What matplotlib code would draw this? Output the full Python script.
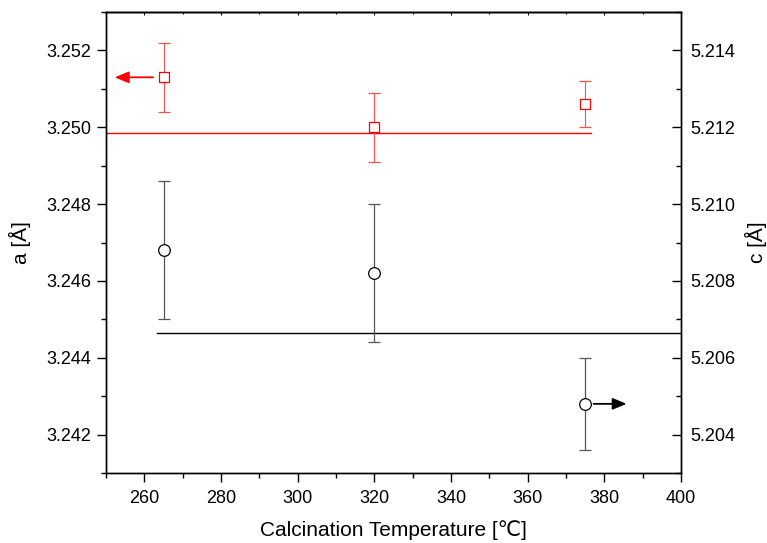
import matplotlib
matplotlib.use("Agg")
import matplotlib.pyplot as plt
from matplotlib.ticker import MultipleLocator, FormatStrFormatter

plt.rcParams['font.family'] = ['Liberation Sans', 'DejaVu Sans']

# Data
temps = [265, 320, 375]
a_vals = [3.2513, 3.2500, 3.2506]
a_err = [0.0009, 0.0009, 0.0006]
c_vals = [5.2088, 5.2082, 5.2048]
c_err = [0.0018, 0.0018, 0.0012]

a_fit_x = [250, 376.4]
a_fit_y = [3.24984, 3.24984]
c_fit_x = [263.4, 400]
c_fit_y = [5.20665, 5.20665]

x_ticks = [260, 280, 300, 320, 340, 360, 380, 400]

fig = plt.figure(figsize=(7.67, 5.43), dpi=100)
ax = fig.add_axes([0.1382, 0.1289, 0.8879 - 0.1382, 0.9779 - 0.1289])
ax2 = ax.twinx()

# a series (left axis, red)
ax.plot(a_fit_x, a_fit_y, color='red', lw=1.0, zorder=2)
ax.errorbar(temps, a_vals, yerr=a_err, fmt='none', ecolor='#ff5050',
            elinewidth=0.8, capsize=4.5, capthick=0.9, zorder=3)
ax.plot(temps, a_vals, linestyle='none', marker='s', markersize=6.8,
        markerfacecolor='white', markeredgecolor='red', markeredgewidth=0.9, zorder=4)
ax.annotate('', xy=(252.3, a_vals[0]), xytext=(262.3, a_vals[0]),
            arrowprops=dict(arrowstyle='-|>,head_length=0.6,head_width=0.25', color='red', lw=1.3,
                            mutation_scale=14, shrinkA=0, shrinkB=0))

# c series (right axis, black)
ax2.plot(c_fit_x, c_fit_y, color='black', lw=1.0, zorder=2)
ax2.errorbar(temps, c_vals, yerr=c_err, fmt='none', ecolor='#555555',
             elinewidth=0.9, capsize=4.5, capthick=0.9, zorder=3)
ax2.plot(temps, c_vals, linestyle='none', marker='o', markersize=8.4,
         markerfacecolor='white', markeredgecolor='black', markeredgewidth=0.9, zorder=4)
ax2.annotate('', xy=(385.8, c_vals[2]), xytext=(377.2, c_vals[2]),
             arrowprops=dict(arrowstyle='-|>,head_length=0.6,head_width=0.25', color='black', lw=1.3,
                             mutation_scale=14, shrinkA=0, shrinkB=0))

ax.set_xlim(250, 400)
ax.set_ylim(3.241, 3.253)
ax2.set_ylim(5.203, 5.215)

ax.set_xticks(x_ticks)
ax.xaxis.set_minor_locator(MultipleLocator(10))
ax.yaxis.set_major_locator(MultipleLocator(0.002))
ax.yaxis.set_minor_locator(MultipleLocator(0.001))
ax.yaxis.set_major_formatter(FormatStrFormatter('%.3f'))
ax2.yaxis.set_major_locator(MultipleLocator(0.002))
ax2.yaxis.set_minor_locator(MultipleLocator(0.001))
ax2.yaxis.set_major_formatter(FormatStrFormatter('%.3f'))

for a in (ax, ax2):
    for s in a.spines.values():
        s.set_linewidth(1.0)

ax.tick_params(axis='x', which='major', direction='out', length=6.5, width=1.0,
               labelsize=13, pad=6, top=False)
ax.tick_params(axis='x', which='minor', direction='out', length=3.5, width=1.0, top=False)
ax.tick_params(axis='y', which='major', direction='out', length=6.5, width=1.0,
               labelsize=13, pad=4, right=False)
ax.tick_params(axis='y', which='minor', direction='out', length=3.5, width=1.0, right=False)
ax2.tick_params(axis='y', which='major', direction='in', length=6.5, width=1.0,
                labelsize=13, pad=6.5, left=False)
ax2.tick_params(axis='y', which='minor', direction='in', length=3.5, width=1.0, left=False)

# Top ticks inward (short) via secondary axis
sec = ax.secondary_xaxis('top')
sec.set_xticks(x_ticks)
sec.xaxis.set_minor_locator(MultipleLocator(10))
sec.tick_params(axis='x', which='major', direction='in', length=2.5, width=0.8, labeltop=False)
sec.tick_params(axis='x', which='minor', direction='in', length=1.5, width=0.8)
sec.spines['top'].set_linewidth(1.0)

ax.set_xlabel('Calcination Temperature [℃]', fontsize=15, labelpad=9)
ax.set_ylabel('a [Å]', fontsize=15, labelpad=11)
ax2.set_ylabel('c [Å]', fontsize=15, labelpad=7)

fig.savefig('out.png', dpi=100)
